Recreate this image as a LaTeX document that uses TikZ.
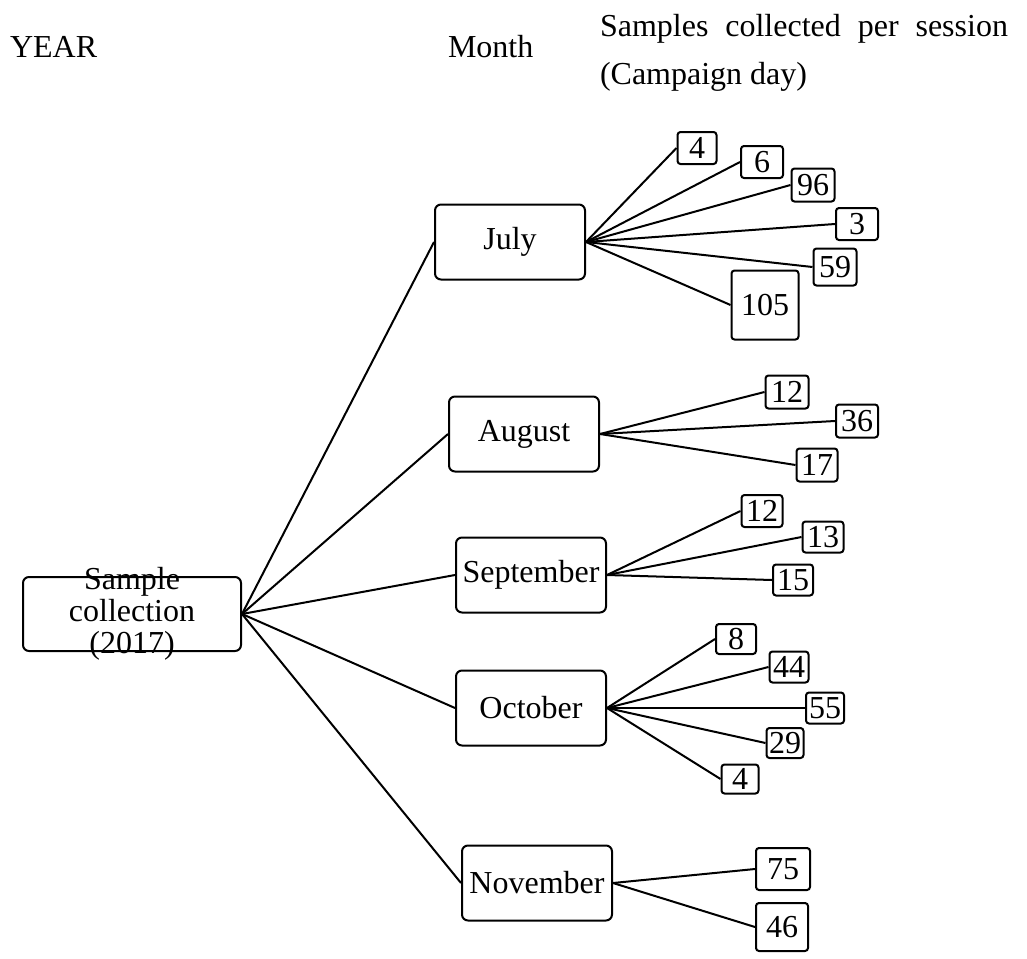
\documentclass[tikz,border=0pt]{standalone}
\usepackage{fontspec}
\setmainfont{Liberation Serif}

\begin{document}
\begin{tikzpicture}[x=1pt,y=-1pt,every path/.style={line width=2pt},
	month/.style={draw,rounded corners=6pt,minimum width=150pt,minimum height=75pt,inner sep=0pt,font=\fontsize{32}{32}\selectfont},
	day/.style={draw,rounded corners=3pt,minimum width=41pt,minimum height=32pt,inner sep=0pt,font=\fontsize{32}{32}\selectfont},
	head/.style={inner sep=0pt,font=\fontsize{32}{48}\selectfont}]
\useasboundingbox (0,0) rectangle (1027,958);
% headings
\node[head,anchor=base west] (hyear) at (9,57) {YEAR};
\node[head,anchor=base west] (hmonth) at (447,57) {Month};
\node[head,anchor=north west,align=left] (hday) at (599,13) {\makebox[408pt][s]{Samples collected per session}\\(Campaign day)};
% year and months
\node[month,minimum width=218pt,minimum height=74pt,label={[inner sep=0pt,align=center,font=\fontsize{32}{32}\selectfont]center:Sample\\collection\\(2017)}] (root) at (132,614) {};
\node[month] (jul) at (510,242) {July};
\node[month] (aug) at (524,434) {August};
\node[month] (sep) at (531,575) {September};
\node[month] (oct) at (531,708) {October};
\node[month] (nov) at (537,883) {November};
% sessions
\node[day,minimum width=39pt] (jul1) at (697,148) {4};
\node[day,minimum width=42pt] (jul2) at (762,162) {6};
\node[day,minimum width=43pt,minimum height=33pt] (jul3) at (813,185) {96};
\node[day,minimum width=42pt] (jul4) at (857,224) {3};
\node[day,minimum width=43pt,minimum height=37pt] (jul5) at (835,267) {59};
\node[day,minimum width=67pt,minimum height=69pt] (jul6) at (765,305) {105};
\node[day,minimum width=43pt,minimum height=33pt] (aug1) at (787,392) {12};
\node[day,minimum width=42pt,minimum height=33pt] (aug2) at (857,421) {36};
\node[day,minimum height=33pt] (aug3) at (817,465) {17};
\node[day] (sep1) at (762,511) {12};
\node[day,minimum height=31pt] (sep2) at (823,537) {13};
\node[day,minimum width=40pt,minimum height=31pt] (sep3) at (793,580) {15};
\node[day,minimum width=40pt,minimum height=30pt] (oct1) at (736,639) {8};
\node[day,minimum width=39pt,minimum height=31pt] (oct2) at (789,667) {44};
\node[day,minimum width=38pt,minimum height=31pt] (oct3) at (825,708) {55};
\node[day,minimum width=37pt,minimum height=30pt] (oct4) at (785,743) {29};
\node[day,minimum width=37pt,minimum height=29pt] (oct5) at (740,779) {4};
\node[day,minimum width=54pt,minimum height=42pt] (nov1) at (783,869) {75};
\node[day,minimum width=52pt,minimum height=48pt] (nov2) at (782,927) {46};
% year to months
\draw (root.east) to (jul.west);
\draw (root.east) to (aug.west);
\draw (root.east) to (sep.west);
\draw (root.east) to (oct.west);
\draw (root.east) to (nov.west);
% months to sessions
\draw (jul.east) to (jul1.west);
\draw (jul.east) to (jul2.west);
\draw (jul.east) to (jul3.west);
\draw (jul.east) to (jul4.west);
\draw (jul.east) to (jul5.west);
\draw (jul.east) to (jul6.west);
\draw (aug.east) to (aug1.west);
\draw (aug.east) to (aug2.west);
\draw (aug.east) to (aug3.west);
\draw (sep.east) to (sep1.west);
\draw (sep.east) to (sep2.west);
\draw (sep.east) to (sep3.west);
\draw (oct.east) to (oct1.west);
\draw (oct.east) to (oct2.west);
\draw (oct.east) to (oct3.west);
\draw (oct.east) to (oct4.west);
\draw (oct.east) to (oct5.west);
\draw (nov.east) to (nov1.west);
\draw (nov.east) to (nov2.west);
\end{tikzpicture}
\end{document}
